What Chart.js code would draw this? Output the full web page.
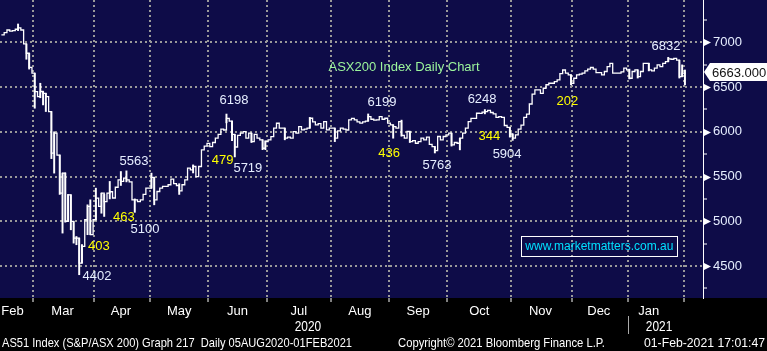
<!DOCTYPE html>
<html lang="en">
<head>
<meta charset="UTF-8" />
<title>ASX200 Index Daily Chart</title>
<script src="https://cdn.jsdelivr.net/npm/chart.js"></script>
<style>
  html, body { margin: 0; padding: 0; background: #000; }
  #wrap { width: 767px; height: 351px; }
</style>
</head>
<body>
<div id="wrap"><canvas id="asx" width="767" height="351"></canvas></div>
<script>
// AS51 daily closes, one per trading day, mid Feb 2020 -> 01 Feb 2021
const closes = [
  // Feb
  7082, 7108, 7137, 7125, 7130, 7145, 7160, 7137, 6981, 6877, 6720, 6654,
  // Mar
  6449, 6393, 6450, 6430, 6393, 6226, 5761, 5984, 5740, 5314, 5538, 4998, 5296, 4998, 4812, 4812, 4533, 4719, 5017, 5166, 4850, 5017,
  // Apr
  5259, 5166, 5314, 5220, 5314, 5330, 5260, 5380, 5463, 5445, 5482, 5463, 5440, 5240, 5240, 5220, 5240, 5300, 5370, 5370,
  // May
  5490, 5240, 5333, 5370, 5390, 5389, 5408, 5470, 5420, 5400, 5340, 5408, 5463, 5593, 5575, 5612, 5500, 5612, 5798, 5840, 5870,
  // Jun
  5835, 5880, 5928, 5970, 6030, 6020, 6150, 6120, 5970, 5830, 5960, 5984, 6002, 5930, 5984, 5890, 5970, 5930, 5910, 5816, 5890,
  // Jul
  5910, 5946, 6040, 6095, 6040, 6040, 5928, 5940, 5930, 6002, 5984, 6058, 6021, 6030, 6040, 6151, 6110, 6077, 6090, 6040, 6114, 6021, 6040,
  // Aug
  6040, 5930, 6010, 6040, 6030, 6020, 6133, 6150, 6133, 6110, 6096, 6110, 6120, 6170, 6140, 6130, 6133, 6170, 6140, 6151, 6096,
  // Sep
  6077, 6058, 6040, 6114, 5960, 5928, 6003, 5890, 5900, 5872, 5890, 5928, 5910, 5940, 5860, 5835, 5790, 5947, 5910, 5947, 5965,
  // Oct
  5984, 5854, 5880, 5872, 5928, 5984, 6040, 6114, 6150, 6150, 6207, 6205, 6220, 6225, 6240, 6215, 6200, 6160, 6170, 6160, 6070, 6050, 5975,
  // Nov
  5928, 5965, 6030, 6075, 6160, 6197, 6310, 6420, 6468, 6468, 6430, 6486, 6525, 6542, 6542, 6560, 6579, 6650, 6690, 6654, 6635, 6542,
  // Dec
  6598, 6635, 6645, 6655, 6680, 6700, 6718, 6700, 6660, 6660, 6635, 6673, 6728, 6765, 6654, 6654, 6654, 6670, 6710, 6691,
  // Jan
  6598, 6673, 6691, 6617, 6673, 6765, 6765, 6691, 6680, 6710, 6747, 6728, 6765, 6784, 6815, 6810, 6820, 6800, 6617, 6654,
  // Feb 2021
  6663
];

// days whose high-low range pokes out of the close steps
const wickDays = [6, 9, 10, 12, 14, 15, 16, 18, 19, 21, 22, 23, 24, 25, 26, 27, 28, 29, 31, 32, 34, 36, 37, 39, 43, 45, 48, 54, 55, 64, 69,
  81, 83, 84, 90, 94, 95, 102, 111, 120, 132, 141, 144, 147, 156, 162, 165, 174, 183, 184, 205, 226, 229, 233, 240, 244, 245, 246];
const wickLow = [7130, 6810, 6700, 6263, 6380, 6300, 6226, 5700, 5538, 5300, 4868, 4990, 4998, 4905, 4756, 4738, 4403, 4533, 4850, 4850, 5017, 5090, 5054, 5250, 5400, 5440, 5100, 5370, 5184, 5300, 5540,
  6100, 5900, 5719, 5880, 5800, 5800, 5910, 6040, 5890, 6120, 5928, 5950, 5880, 5763, 5840, 5798, 6200, 5940, 5904, 6524, 6590, 6600, 6680, 6784, 6600, 6617, 6524];
const wickHigh = [7204, 6981, 6877, 6654, 6542, 6450, 6430, 6226, 6000, 5740, 5538, 5540, 5300, 5296, 4998, 4830, 4812, 4740, 5184, 5240, 5370, 5314, 5300, 5445, 5556, 5563, 5250, 5538, 5490, 5420, 5630,
  6198, 6120, 5970, 5984, 5910, 5900, 6040, 6160, 6040, 6199, 6077, 6130, 6003, 5835, 5984, 5928, 6248, 6050, 5975, 6635, 6700, 6691, 6765, 6832, 6800, 6747, 6690];

const monthNames = ['Feb', 'Mar', 'Apr', 'May', 'Jun', 'Jul', 'Aug', 'Sep', 'Oct', 'Nov', 'Dec', 'Jan'];
const monthMid = [4, 22, 43, 64, 85, 107, 129, 150, 172, 194, 215, 233];
const monthStart = [12, 34, 54, 75, 96, 119, 140, 161, 184, 206, 226, 246];
const yearNames = ['2020', '2021'];
const yearMid = [110.3, 236.7];
const yMajor = [4500, 5000, 5500, 6000, 6500, 7000];
const yMinor = [4250, 4750, 5250, 5750, 6250, 6750, 7250];
const lastPrice = 6663;
const slots = 253; // trading-day slots across the plot width

const SANS = '"Liberation Sans", Arial, sans-serif';
const WHITE = '#e6eeff';
const YELLOW = '#ffff00';

const notes = [
  { text: 'ASX200 Index Daily Chart', i: 144.9, v: 6724, color: '#9cf59c' },
  { text: '4402', i: 34.4, v: 4386, color: WHITE },
  { text: '403', i: 35.1, v: 4716, color: YELLOW },
  { text: '463', i: 44.1, v: 5039, color: YELLOW },
  { text: '5563', i: 47.7, v: 5664, color: WHITE },
  { text: '5100', i: 51.7, v: 4905, color: WHITE },
  { text: '6198', i: 83.7, v: 6348, color: WHITE },
  { text: '479', i: 79.6, v: 5675, color: YELLOW },
  { text: '5719', i: 88.7, v: 5586, color: WHITE },
  { text: '6199', i: 137, v: 6323, color: WHITE },
  { text: '436', i: 139.5, v: 5753, color: YELLOW },
  { text: '5763', i: 156.8, v: 5620, color: WHITE },
  { text: '6248', i: 173, v: 6356, color: WHITE },
  { text: '344', i: 175.6, v: 5943, color: YELLOW },
  { text: '5904', i: 182, v: 5742, color: WHITE },
  { text: '202', i: 203.7, v: 6334, color: YELLOW },
  { text: '6832', i: 239.2, v: 6948, color: WHITE }
];

// footer pieces: text, left edge, width it is squeezed into (Bloomberg narrow font)
const footer = [
  ['AS51 Index (S&P/ASX 200) Graph 217  Daily 05AUG2020-01FEB2021', 2, 350],
  ['Copyright\u00A9 2021 Bloomberg Finance L.P.', 398, 207],
  ['01-Feb-2021 17:01:47', 644, 121]
];

const dayLabels = Array.from({ length: slots }, (_, i) => String(i));
const wickData = dayLabels.map((_, i) => {
  const k = wickDays.indexOf(i);
  return k < 0 ? null : [wickLow[k], wickHigh[k]];
});

function squeezed(ctx, text, x, y, width) {
  const w = ctx.measureText(text).width;
  ctx.save();
  ctx.translate(x, y);
  ctx.scale(Math.min(1, width / w), 1);
  ctx.fillText(text, 0, 0);
  ctx.restore();
}

const frame = {
  id: 'frame',
  beforeDraw(chart) {
    const { ctx, chartArea } = chart;
    ctx.save();
    ctx.fillStyle = '#000';
    ctx.fillRect(0, 0, chart.width, chart.height);
    ctx.fillStyle = '#0e0c48';
    ctx.fillRect(0, 0, chart.width, chartArea.bottom);
    ctx.restore();
  },
  afterDraw(chart) {
    const { ctx, chartArea } = chart;
    const xs = chart.scales.x, ys = chart.scales.y;
    const ax = ys.left;
    ctx.save();

    // tick pointers on the price axis
    ctx.fillStyle = '#fff';
    yMajor.forEach(v => {
      const y = Math.round(ys.getPixelForValue(v)) + 0.5;
      ctx.beginPath();
      ctx.moveTo(ax + 1, y - 3.5);
      ctx.lineTo(ax + 8, y);
      ctx.lineTo(ax + 1, y + 3.5);
      ctx.closePath();
      ctx.fill();
    });

    // last price tag
    const py = Math.round(ys.getPixelForValue(lastPrice));
    ctx.beginPath();
    ctx.moveTo(ax + 1, py);
    ctx.lineTo(ax + 7, py - 9);
    ctx.lineTo(chart.width, py - 9);
    ctx.lineTo(chart.width, py + 9);
    ctx.lineTo(ax + 7, py + 9);
    ctx.closePath();
    ctx.fill();
    ctx.fillStyle = '#111';
    ctx.font = '13px ' + SANS;
    ctx.textAlign = 'left';
    ctx.textBaseline = 'middle';
    ctx.fillText(lastPrice.toFixed(3), ax + 9, py + 1);

    // annotations
    ctx.textAlign = 'center';
    notes.forEach(n => {
      ctx.fillStyle = n.color;
      ctx.fillText(n.text, xs.getPixelForValue(n.i), ys.getPixelForValue(n.v));
    });

    // website box
    ctx.font = '12px ' + SANS;
    const site = 'www.marketmatters.com.au';
    const cx = xs.getPixelForValue(215.2), cy = ys.getPixelForValue(4727);
    const w = ctx.measureText(site).width + 8;
    ctx.strokeStyle = '#fff';
    ctx.lineWidth = 1;
    ctx.strokeRect(Math.round(cx - w / 2) + 0.5, Math.round(cy - 10) + 0.5, Math.round(w), 20);
    ctx.fillStyle = '#00e1ff';
    ctx.fillText(site, cx, cy + 1);

    // years under the months
    ctx.font = '14px ' + SANS;
    ctx.fillStyle = '#fff';
    yearNames.forEach((t, k) => {
      const x = xs.getPixelForValue(yearMid[k]);
      ctx.textAlign = 'left';
      const tw = ctx.measureText(t).width * 0.85;
      squeezed(ctx, t, x - tw / 2, 327, tw);
    });
    const sep = Math.round((xs.getPixelForValue(225) + xs.getPixelForValue(226)) / 2) + 0.5;
    ctx.strokeStyle = '#aaa';
    ctx.beginPath();
    ctx.moveTo(sep, chartArea.bottom + 18);
    ctx.lineTo(sep, chartArea.bottom + 36);
    ctx.stroke();

    // footer line
    ctx.font = '13px ' + SANS;
    ctx.textAlign = 'left';
    footer.forEach(([t, x, wd]) => squeezed(ctx, t, x, 343, wd));
    ctx.restore();
  }
};

new Chart(document.getElementById('asx'), {
  type: 'bar',
  data: {
    labels: dayLabels,
    datasets: [
      {
        type: 'line',
        data: closes,
        borderColor: '#fff',
        borderWidth: 1.3,
        pointRadius: 0,
        stepped: true,
        tension: 0
      },
      {
        type: 'bar',
        data: wickData,
        backgroundColor: '#fff',
        borderWidth: 0,
        barThickness: 1.3,
        grouped: false
      }
    ]
  },
  options: {
    responsive: false,
    animation: false,
    layout: { padding: 0 },
    plugins: { legend: { display: false }, tooltip: { enabled: false } },
    scales: {
      x: {
        type: 'category',
        afterFit: s => {
          s.height = 53;
          s.paddingLeft = 0;
          s.paddingRight = 0;
        },
        grid: {
          offset: true,
          color: c => monthStart.includes(c.index) ? '#9a9a9a' : 'transparent',
          lineWidth: 2,
          tickColor: c => monthStart.includes(c.index) ? '#fff' : 'transparent',
          tickWidth: 1,
          tickLength: 4
        },
        border: { display: false, dash: [2, 3] },
        ticks: {
          autoSkip: false,
          maxRotation: 0,
          minRotation: 0,
          padding: 2,
          color: '#fff',
          font: { family: SANS, size: 13 },
          callback: (v, i) => {
            const k = monthMid.indexOf(i);
            return k < 0 ? '' : monthNames[k];
          }
        }
      },
      y: {
        position: 'right',
        min: 4143,
        max: 7472,
        afterBuildTicks: s => {
          s.ticks = yMinor.concat(yMajor).sort((a, b) => a - b).map(v => ({ value: v }));
        },
        afterFit: s => {
          s.width = 64;
          s.paddingTop = 0;
          s.paddingBottom = 0;
        },
        grid: {
          color: c => c.tick && yMajor.includes(c.tick.value) ? '#9a9a9a' : 'transparent',
          lineWidth: 2,
          tickColor: c => c.tick && yMajor.includes(c.tick.value) ? 'transparent' : '#fff',
          tickWidth: 1,
          tickLength: 4
        },
        border: { display: true, color: '#fff', width: 1, dash: [2, 3] },
        ticks: {
          padding: 6,
          color: WHITE,
          font: { family: SANS, size: 13 },
          callback: v => yMajor.includes(v) ? String(v) : ''
        }
      }
    }
  },
  plugins: [frame]
});
</script>
</body>
</html>
